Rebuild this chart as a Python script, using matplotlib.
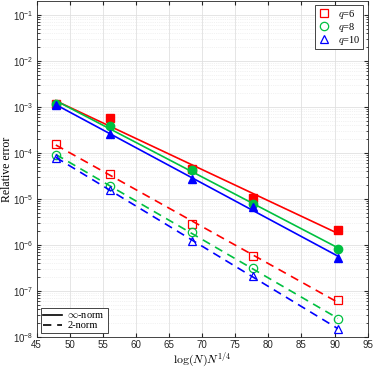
import numpy as np
import matplotlib
matplotlib.use("Agg")
import matplotlib.pyplot as plt
from matplotlib.lines import Line2D

# -------------------------
# Data
# -------------------------
x = [47.9, 56.1, 68.4, 77.7, 90.5]

inf_q6 = [1.17e-3, 5.6e-4, 4.5e-5, 1.07e-5, 2.1e-6]
inf_q8 = [1.17e-3, 3.8e-4, 4.3e-5, 7.9e-6, 8.1e-7]
inf_q10 = [1.1e-3, 2.6e-4, 2.7e-5, 6.7e-6, 5.2e-7]

two_q6 = [1.58e-4, 3.4e-5, 2.9e-6, 5.6e-7, 6.3e-8]
two_q8 = [8.9e-5, 1.9e-5, 1.9e-6, 3.1e-7, 2.4e-8]
two_q10 = [7.9e-5, 1.6e-5, 1.2e-6, 2.1e-7, 1.5e-8]

labels = ['$q$=6', '$q$=8', '$q$=10']
colors = ['#ff0000', '#00c040', '#0000ff']
markers = ['s', 'o', '^']

plt.rcParams['font.family'] = ['Liberation Sans', 'DejaVu Sans']
plt.rcParams['mathtext.fontset'] = 'cm'

fig = plt.figure(figsize=(3.74, 3.67), dpi=100)
ax = fig.add_axes([0.098, 0.082, 0.885, 0.915])

xs = np.array(x)
xfit = np.linspace(xs[0], xs[-1], 50)


def fit(vals):
    p = np.polyfit(xs, np.log10(vals), 1)
    return 10 ** np.polyval(p, xfit)


inf_sets = [inf_q6, inf_q8, inf_q10]
two_sets = [two_q6, two_q8, two_q10]

for vals, c, m in zip(inf_sets, colors, markers):
    ax.plot(xfit, fit(vals), '-', color=c, lw=1.2)
    ax.plot(x, vals, m, color=c, ms=6, mfc=c, mec=c)

for vals, c, m in zip(two_sets, colors, markers):
    ax.plot(xfit, fit(vals), '--', color=c, lw=1.2, dashes=(5, 3.5))
    ax.plot(x, vals, m, color=c, ms=6, mfc='none', mec=c, mew=0.9)

ax.set_yscale('log')
ax.set_xlim(45, 95)
ax.set_ylim(1e-8, 10 ** -0.7)
ax.set_xticks(np.arange(45, 96, 5))
ax.set_yticks([10.0 ** k for k in range(-8, 0)])

ax.grid(True, which='major', color='#e0e0e0', lw=0.6)
ax.grid(True, which='minor', axis='y', color='#e6e6e6', lw=0.5, ls=':')
ax.set_axisbelow(True)
ax.tick_params(which='both', direction='in', top=True, right=True,
               labelsize=7, colors='#262626', length=3, pad=2.5)
ax.tick_params(which='minor', length=1.8)
for s in ax.spines.values():
    s.set_color('#262626')
    s.set_linewidth(0.6)

ax.set_xlabel(r'$\log(N)N^{1/4}$', fontsize=8.5)
ax.xaxis.set_label_coords(0.5, -0.039)
ax.set_ylabel('Relative error', fontsize=8.5, family='Liberation Serif')
ax.yaxis.set_label_coords(-0.072, 0.5)

# Legend for q (markers only)
h1 = [Line2D([], [], ls='none', marker=m, color=c, mfc='none', ms=6, mew=0.9)
      for c, m in zip(colors, markers)]
leg1 = ax.legend(h1, labels, loc='upper right', fancybox=False,
                 edgecolor='#262626', framealpha=1, borderpad=0.25,
                 handletextpad=0.8, labelspacing=0.0, handlelength=1.2,
                 handleheight=0.6, borderaxespad=0.4,
                 prop={'family': 'Liberation Serif', 'size': 7.5})
leg1.get_frame().set_linewidth(0.6)
ax.add_artist(leg1)

# Legend for norms
h2 = [Line2D([], [], color='k', lw=1.2, ls='-'),
      Line2D([], [], color='k', lw=1.2, ls='--', dashes=(5, 3.5))]
leg2 = ax.legend(h2, [r'$\infty$-norm', '2-norm'], loc='lower left',
                 fancybox=False, edgecolor='#262626', framealpha=1,
                 borderpad=0.25, handletextpad=0.5, labelspacing=0.1,
                 handlelength=1.8, handleheight=0.6, borderaxespad=0.4,
                 prop={'family': 'Liberation Serif', 'size': 7.5})
leg2.get_frame().set_linewidth(0.6)

fig.savefig('out.png', dpi=100)
